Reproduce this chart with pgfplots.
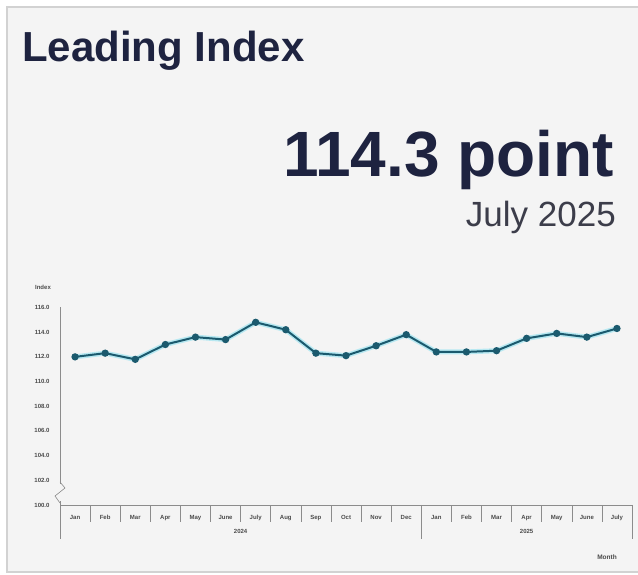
\documentclass[border=0pt]{standalone}
\usepackage{pgfplots}
\pgfplotsset{compat=1.18}
\usepackage{pgfplotstable}
\usepackage{fontspec}
\setmainfont{Liberation Sans}
\definecolor{panel}{HTML}{F4F4F4}
\definecolor{panelborder}{HTML}{D2D2D2}
\definecolor{navy}{HTML}{1E2340}
\definecolor{subgray}{HTML}{3C3D4A}
\definecolor{axisgray}{HTML}{8C8C8C}
\definecolor{labelgray}{HTML}{4A4A4A}
\definecolor{linecol}{HTML}{1B5A6E}
\definecolor{glowcol}{HTML}{8FE1F0}
\pgfplotstableread{
x y
0 112.0
1 112.3
2 111.8
3 113.0
4 113.6
5 113.4
6 114.8
7 114.2
8 112.3
9 112.1
10 112.9
11 113.8
12 112.4
13 112.4
14 112.5
15 113.5
16 113.9
17 113.6
18 114.3
}\leadidx
\begin{document}
\begin{tikzpicture}[x=1pt,y=1pt]
\useasboundingbox (0,0) rectangle (638,575);
\fill[white] (0,0) rectangle (638,575);
\filldraw[fill=panel, draw=panelborder, line width=1.5pt] (7,3) rectangle (645,568);
\node[anchor=base west, inner sep=0, text=navy, font=\fontsize{42}{50}\selectfont\bfseries] at (22,513) {Leading Index};
\node[anchor=base east, inner sep=0, text=navy, font=\fontsize{64}{72}\selectfont\bfseries] at (614,398) {114.3 point};
\node[anchor=base east, inner sep=0, text=subgray, font=\fontsize{35}{40}\selectfont] at (616,348) {July 2025};
\begin{axis}[
  at={(60pt,70pt)}, anchor=south west,
  scale only axis, width=572pt, height=197.5pt,
  xmin=-0.5, xmax=18.5, ymin=100, ymax=116,
  clip=false,
  axis x line=bottom, axis y line=left,
  axis line style={-, draw=axisgray, line width=0.6pt},
  xtick={0,...,18},
  xticklabels={Jan,Feb,Mar,Apr,May,June,July,Aug,Sep,Oct,Nov,Dec,Jan,Feb,Mar,Apr,May,June,July},
  ytick={100,102,...,116},
  major tick length=0pt,
  tick style={draw=none},
  /pgf/number format/assume math mode=true,
  ticklabel style={font=\fontsize{6}{7}\selectfont\bfseries, text=labelgray},
  yticklabel style={xshift=-7pt, /pgf/number format/fixed, /pgf/number format/fixed zerofill, /pgf/number format/precision=1},
  xticklabel style={yshift=-7pt},
  extra x ticks={-0.5,0.5,...,18.5},
  extra x tick labels={},
  extra x tick style={major tick length=17pt, tick align=outside, tick style={draw=axisgray, line width=0.5pt}},
]
\addplot[glowcol, line width=5pt, opacity=0.6, no marks] table[x=x,y=y] {\leadidx};
\addplot[linecol, line width=2pt, mark=*, mark size=2.6pt, mark options={fill=linecol, draw=linecol}] table[x=x,y=y] {\leadidx};
\draw[axisgray, line width=0.5pt] (axis cs:-0.5,100) -- ([yshift=-34pt]axis cs:-0.5,100);
\draw[axisgray, line width=0.5pt] (axis cs:11.5,100) -- ([yshift=-34pt]axis cs:11.5,100);
\draw[axisgray, line width=0.5pt] (axis cs:18.5,100) -- ([yshift=-34pt]axis cs:18.5,100);
\node[font=\fontsize{6}{7}\selectfont\bfseries, text=labelgray] at ([yshift=-26pt]axis cs:5.5,100) {2024};
\node[font=\fontsize{6}{7}\selectfont\bfseries, text=labelgray] at ([yshift=-26pt]axis cs:15,100) {2025};
\end{axis}
\draw[panel, line width=1.5pt] (60,74) -- (60,91);
\draw[axisgray, line width=0.6pt] (60,93) -- (65,87) -- (55,79) -- (60,72);
\node[font=\fontsize{6}{7}\selectfont\bfseries, text=labelgray] at (43,288) {Index};
\node[font=\fontsize{6.5}{8}\selectfont\bfseries, text=labelgray] at (607,18) {Month};
\end{tikzpicture}
\end{document}
